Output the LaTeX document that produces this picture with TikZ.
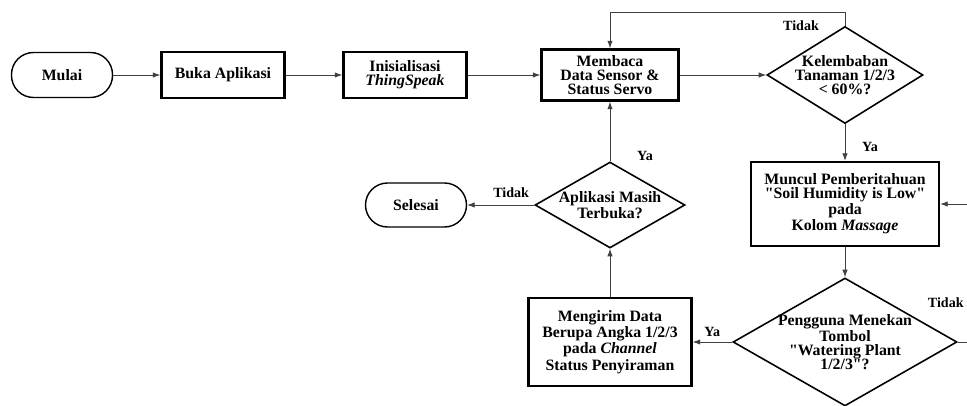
\documentclass[tikz,border=0pt]{standalone}
\usepackage{fontspec}
\setmainfont{Liberation Serif}
\usetikzlibrary{arrows.meta,positioning,shapes.geometric}

\begin{document}
\begin{tikzpicture}[
  on grid,
  every node/.style={font=\bfseries\fontsize{9}{8}\selectfont},
  T/.style={draw,line width=0.8pt,rounded corners=4.4mm,
            minimum height=9mm,minimum width=20.2mm,align=center},
  P/.style={draw,line width=1.4pt,minimum height=9.2mm,
            minimum width=24.6mm,align=center},
  D/.style={draw,line width=0.9pt,diamond,inner sep=-1.2mm,align=center},
  ar/.style={-{Latex[length=1.5mm,width=1.1mm]},line width=0.5pt,black!75},
  lb/.style={font=\bfseries\fontsize{8}{8}\selectfont}
]
\useasboundingbox (0,0) rectangle (193.4mm,-81.2mm);

% top row
\node[T](mulai) at (12.4mm,-15mm){Mulai};
\node[P,right=32.2mm of mulai](buka){Buka Aplikasi};
\node[P,right=36.4mm of buka](inis){Inisialisasi\\\textit{ThingSpeak}};
\node[P,right=41mm of inis,minimum width=27.4mm](membaca)
     {Membaca\\Data Sensor \&\\Status Servo};
\node[D,right=47mm of membaca,aspect=1.6,
      minimum width=31.2mm,minimum height=19.4mm](kel)
     {Kelembaban\\Tanaman 1/2/3\\< 60\%?};

% right column
\node[P,below=25.8mm of kel,minimum width=37.6mm,minimum height=16.8mm](muncul)
     {Muncul Pemberitahuan\\\textquotedbl Soil Humidity is Low\textquotedbl\\pada\\Kolom \textit{Massage}};
\node[D,below=27.6mm of muncul,aspect=1.75,
      minimum width=44.8mm,minimum height=25.6mm](pengguna)
     {Pengguna Menekan\\Tombol\\\textquotedbl Watering Plant\\1/2/3\textquotedbl?};
\node[P,left=47mm of pengguna,minimum width=32.6mm,minimum height=17.6mm](mengirim)
     {Mengirim Data\\Berupa Angka 1/2/3\\pada \textit{Channel}\\Status Penyiraman};

% middle
\node[D,below=26mm of membaca,aspect=1.74,
      minimum width=30mm,minimum height=17.2mm](aplikasi)
     {Aplikasi Masih\\Terbuka?};
\node[T,left=38.8mm of aplikasi,minimum height=8.8mm](selesai){Selesai};

\coordinate (top) at (0,-2.4mm);
\coordinate (edge) at (200mm,0);

\draw[ar](mulai)--(buka);
\draw[ar](buka)--(inis);
\draw[ar](inis)--(membaca);
\draw[ar](membaca)--(kel);
\draw[ar](kel.north)--(kel.north|-top)-|(membaca.north);
\draw[ar](kel)--(muncul);
\draw[ar](muncul)--(pengguna);
\draw[ar](pengguna.east)--(pengguna.east-|edge)|-(muncul.east);
\draw[ar](pengguna)--(mengirim);
\draw[ar](mengirim)--(aplikasi);
\draw[ar](aplikasi)--(membaca);
\draw[ar](aplikasi)--(selesai);

% labels
\node[lb,left=8.8mm of kel.north,anchor=center]{Tidak};
\node[lb,below right=4.6mm and 5mm of kel.south,anchor=center]{Ya};
\node[lb,above left=7.8mm and 2.4mm of pengguna.east,anchor=center]{Tidak};
\node[lb,above left=2mm and 4mm of pengguna.west,anchor=center]{Ya};
\node[lb,above right=1mm and 7mm of aplikasi.north,anchor=center]{Ya};
\node[lb,above left=2.4mm and 4.6mm of aplikasi.west,anchor=center]{Tidak};
\end{tikzpicture}
\end{document}
